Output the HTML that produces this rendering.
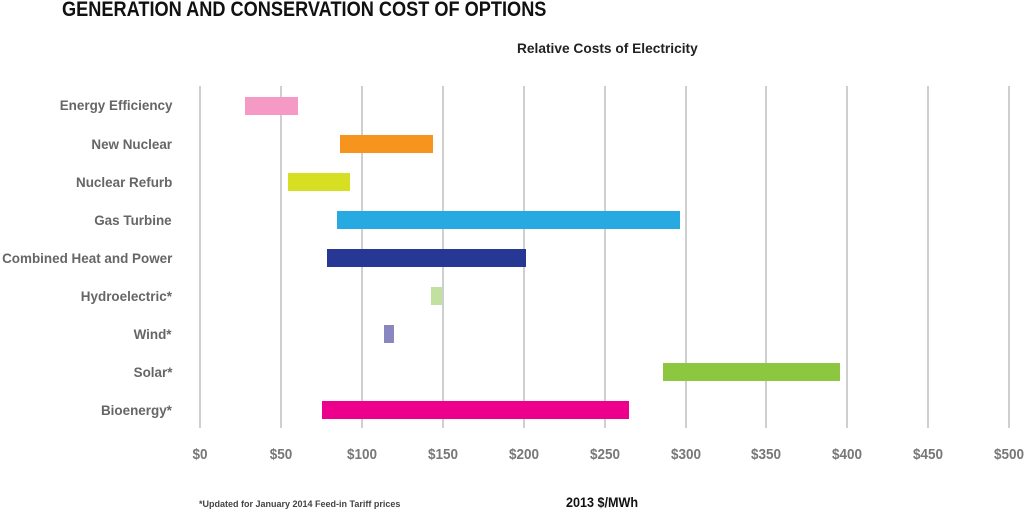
<!DOCTYPE html>
<html><head><style>
body{margin:0;background:#fff;width:1024px;height:510px;overflow:hidden;font-family:"Liberation Sans",sans-serif;font-weight:bold}
.t{position:absolute;white-space:nowrap}
.g{position:absolute;top:86px;height:342px;width:2px;background:#cfcfcf}
.b{position:absolute;height:18px}
.l{position:absolute;right:852px;color:#666;font-size:14px;text-align:right;white-space:nowrap;transform:scaleX(0.96);transform-origin:right center}
.x{position:absolute;top:446px;color:#777;font-size:15px;transform:translateX(-50%) scaleX(0.9)}
</style></head><body>
<div class="t" style="left:62px;top:-2px;font-size:21px;color:#111;transform:scaleX(0.865);transform-origin:left top">GENERATION AND CONSERVATION COST OF OPTIONS</div>
<div class="t" style="left:517px;top:40px;font-size:14px;color:#222;transform:scaleX(0.98);transform-origin:left top">Relative Costs of Electricity</div>

<div class="g" style="left:199px"></div><div class="g" style="left:280px"></div><div class="g" style="left:361px"></div><div class="g" style="left:442px"></div><div class="g" style="left:523px"></div><div class="g" style="left:604px"></div><div class="g" style="left:685px"></div><div class="g" style="left:765px"></div><div class="g" style="left:846px"></div><div class="g" style="left:927px"></div><div class="g" style="left:1008px"></div>

<div class="b" style="left:245px;width:53px;top:97px;background:#f49ac4"></div>
<div class="b" style="left:340px;width:93px;top:135px;background:#f7941d"></div>
<div class="b" style="left:288px;width:62px;top:173px;background:#d7df23"></div>
<div class="b" style="left:337px;width:343px;top:211px;background:#27aae1"></div>
<div class="b" style="left:327px;width:199px;top:249px;background:#263893"></div>
<div class="b" style="left:431px;width:11px;top:287px;background:#c2e09f"></div>
<div class="b" style="left:384px;width:10px;top:325px;background:#8a86c0"></div>
<div class="b" style="left:663px;width:177px;top:363px;background:#8dc63f"></div>
<div class="b" style="left:322px;width:307px;top:401px;background:#ec008c"></div>

<div class="l" style="top:97px">Energy Efficiency</div>
<div class="l" style="top:136px">New Nuclear</div>
<div class="l" style="top:174px">Nuclear Refurb</div>
<div class="l" style="top:212px">Gas Turbine</div>
<div class="l" style="top:250px">Combined Heat and Power</div>
<div class="l" style="top:288px">Hydroelectric*</div>
<div class="l" style="top:326px">Wind*</div>
<div class="l" style="top:364px">Solar*</div>
<div class="l" style="top:402px">Bioenergy*</div>

<div class="x" style="left:200px">$0</div><div class="x" style="left:281px">$50</div><div class="x" style="left:362px">$100</div><div class="x" style="left:443px">$150</div><div class="x" style="left:524px">$200</div><div class="x" style="left:605px">$250</div><div class="x" style="left:686px">$300</div><div class="x" style="left:766px">$350</div><div class="x" style="left:847px">$400</div><div class="x" style="left:928px">$450</div><div class="x" style="left:1009px">$500</div>

<div class="t" style="left:199px;top:499px;font-size:9px;color:#444">*Updated for January 2014 Feed-in Tariff prices</div>
<div class="t" style="left:566px;top:494px;font-size:14px;color:#111;transform:scaleX(0.9);transform-origin:left top">2013 $/MWh</div>
</body></html>
